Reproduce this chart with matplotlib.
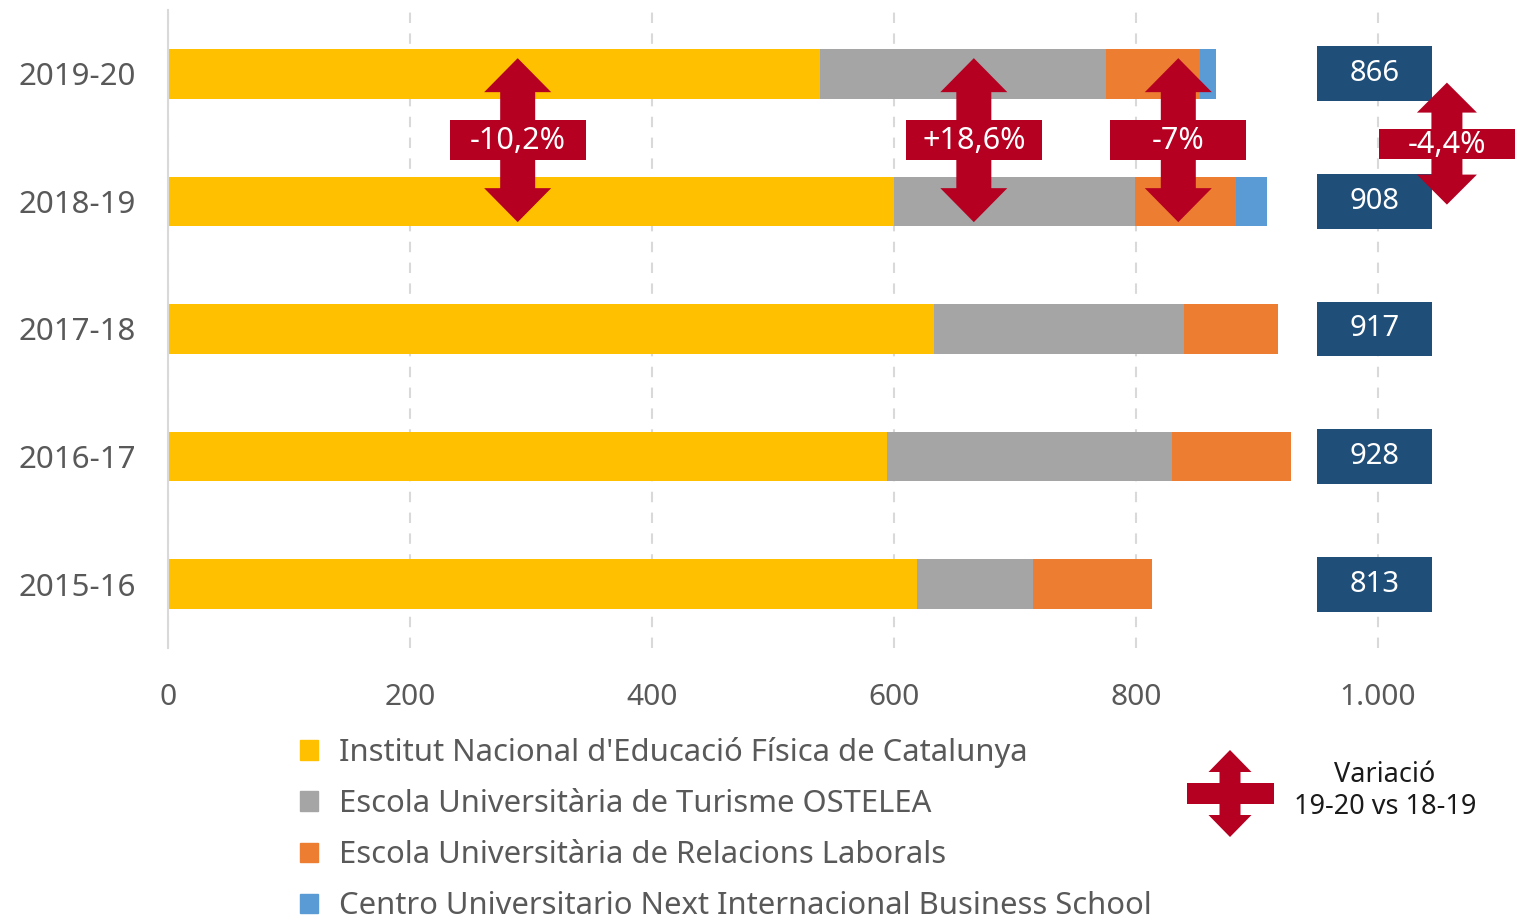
import matplotlib.pyplot as plt
import matplotlib.patches as mpatches
import matplotlib.transforms as mtransforms

plt.rcParams['font.family'] = ['Noto Sans', 'DejaVu Sans']

# data, bottom row first
years = ['2015-16', '2016-17', '2017-18', '2018-19', '2019-20']
inefc = [619, 594, 633, 600, 539]
ostelea = [96, 236, 207, 199, 236]
relacions = [98, 98, 77, 84, 78]
next_bs = [0, 0, 0, 25, 13]
totals = [813, 928, 917, 908, 866]

names = ["Institut Nacional d'Educació Física de Catalunya",
         "Escola Universitària de Turisme OSTELEA",
         "Escola Universitària de Relacions Laborals",
         "Centro Universitario Next Internacional Business School"]
colors = ['#FFC000', '#A5A5A5', '#ED7D31', '#5B9BD5']

variations = ['-10,2%', '+18,6%', '-7%', '-4,4%']
var_x = [289, 666, 835, 1057]
var_y = [3.48, 3.48, 3.48, 3.453]

red = '#B50021'
navy = '#1F4E79'
grey_txt = '#595959'

fig = plt.figure(figsize=(15.24, 9.19), dpi=100)
ax = fig.add_axes([168 / 1524, 1 - 648 / 919, 1352 / 1524, 638 / 919])

y = list(range(len(years)))
left = [0] * len(years)
for vals, name, c in zip([inefc, ostelea, relacions, next_bs], names, colors):
    ax.barh(y, vals, left=left, height=0.39, color=c, label=name, zorder=2)
    left = [a + b for a, b in zip(left, vals)]

# totals boxes
ax.barh(y, [95] * len(y), left=950, height=0.43, color=navy, zorder=2)
for yi, t in zip(y, totals):
    ax.text(997.5, yi, str(t), color='white', fontsize=21, ha='center', va='center', zorder=3)

ax.set_xlim(0, 1117.4)
ax.set_ylim(-0.5, 4.5)
ax.set_xticks([0, 200, 400, 600, 800, 1000])
ax.set_xticklabels(['0', '200', '400', '600', '800', '1.000'])
ax.set_yticks(y)
ax.set_yticklabels(years)
ax.tick_params(axis='x', length=0, pad=25, labelsize=21.5, labelcolor=grey_txt)
ax.tick_params(axis='y', length=0, pad=23, labelsize=22.5, labelcolor=grey_txt)
ax.grid(axis='x', color='#D9D9D9', linestyle=(0, (5, 5)), linewidth=1.5, zorder=0)
for s in ['top', 'right', 'bottom']:
    ax.spines[s].set_visible(False)
ax.spines['left'].set_color('#D9D9D9')
ax.spines['left'].set_linewidth(1.5)


def cross_arrow(H, hw, hh, sw, rw, rh):
    b = H - hh
    arrow = [(0, H), (hw, b), (sw, b), (sw, -b), (hw, -b), (0, -H),
             (-hw, -b), (-sw, -b), (-sw, b), (-hw, b)]
    rect = [(-rw, -rh), (rw, -rh), (rw, rh), (-rw, rh)]
    return arrow, rect


big = cross_arrow(82, 33.5, 34, 17.5, 68, 20)
small = cross_arrow(61, 30, 30, 15.5, 68, 15)
shapes = [big, big, big, small]
for label, cx, cy, shape in zip(variations, var_x, var_y, shapes):
    tr = mtransforms.IdentityTransform() + mtransforms.ScaledTranslation(cx, cy, ax.transData)
    for pts in shape:
        ax.add_patch(mpatches.Polygon(pts, closed=True, facecolor=red, edgecolor='none',
                                      transform=tr, clip_on=False, zorder=5))
    ax.text(cx, cy - 0.01, label, color='white', fontsize=22, ha='center', va='center',
            zorder=6, clip_on=False)

ax.set_xlim(0, 1117.4)
ax.set_ylim(-0.5, 4.5)

# legend
handles = [mpatches.Patch(color=c) for c in colors]
fig.legend(handles, names, loc='upper left', bbox_to_anchor=(300 / 1524, 1 - 737 / 919),
           frameon=False, fontsize=22.3, labelcolor=grey_txt, handlelength=0.58,
           handleheight=0.58, handletextpad=0.67, labelspacing=0.68,
           borderpad=0, borderaxespad=0)

# variation legend
arrow2, rect2 = cross_arrow(43.5, 21.5, 22, 10.5, 43.5, 10.5)
tr2 = mtransforms.IdentityTransform() + mtransforms.ScaledTranslation(
    1230 / 1524, 1 - 793.5 / 919, fig.transFigure)
for pts in (arrow2, rect2):
    fig.add_artist(mpatches.Polygon(pts, closed=True, facecolor=red, edgecolor='none',
                                    transform=tr2))
fig.text(1385 / 1524, 1 - 791 / 919, 'Variació\n19-20 vs 18-19', ha='center', va='center',
         fontsize=19.5, color='#1A1A1A', linespacing=1.15)

fig.savefig('out.png', dpi=100)
